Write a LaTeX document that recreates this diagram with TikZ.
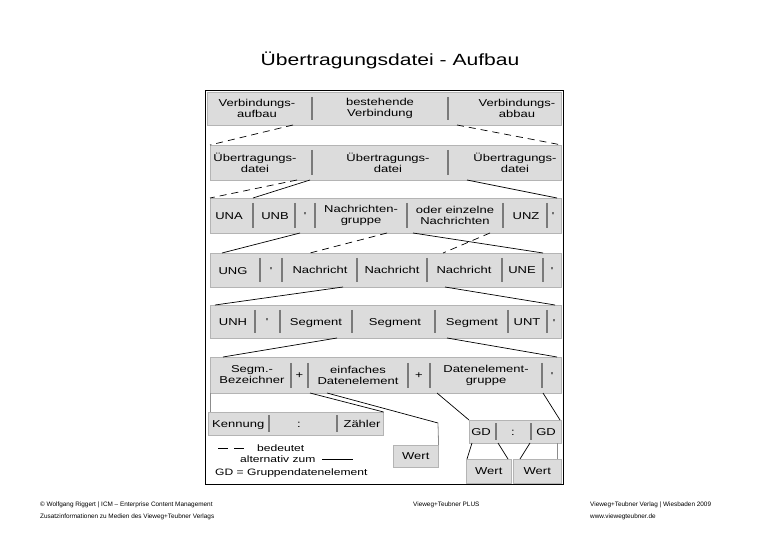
\documentclass[tikz,border=0pt]{standalone}
\usepackage{fontspec}
\setmainfont{Liberation Sans}
\newfontfamily\bandfont[FakeStretch=1.3]{Liberation Sans}
\newfontfamily\titlefont[FakeStretch=1.3]{Liberation Sans}
\newfontfamily\footfont{Liberation Sans}
\definecolor{bandfill}{HTML}{DCDCDC}
\definecolor{bandline}{HTML}{B4B4B4}
\definecolor{bargray}{HTML}{7A7A7A}
\tikzset{
  band/.style={draw=bandline, fill=bandfill, line width=0.6pt, inner sep=0pt, anchor=north west},
  txt/.style={font={\bandfont\fontsize{10}{11}\selectfont}, align=center, inner sep=0pt},
  txtone/.style={font={\bandfont\fontsize{10}{11}\selectfont}, inner sep=0pt, text height=7.2pt, text depth=0pt},
  legtxt/.style={font={\bandfont\fontsize{9.3}{10}\selectfont}, inner sep=0pt, anchor=west, text height=6.7pt, text depth=0pt},
  sepbar/.style={draw=bargray, line width=2pt},
  conn/.style={line width=0.7pt, black},
  alt/.style={conn, dash pattern=on 7pt off 5pt},
  grayconn/.style={line width=0.8pt, draw=black!45},
  foot/.style={font={\footfont\fontsize{6.4}{7}\selectfont}, inner sep=0pt, anchor=west, text=black}
}
\begin{document}
\begin{tikzpicture}[x=1pt,y=-1pt]
\useasboundingbox (0,0) rectangle (780,540);
% title
\node[font={\titlefont\fontsize{16.2}{18}\selectfont}, inner sep=0pt] (title) at (390,60) {Übertragungsdatei - Aufbau};
% frame
\draw[line width=0.8pt] (205,90) rectangle (563,484);
% bands
\node[band, minimum width=354pt, minimum height=33pt] (r1) at (207,92) {};
\node[band, minimum width=351pt, minimum height=35pt] (r2) at (210,145) {};
\node[band, minimum width=351pt, minimum height=35pt] (r3) at (210,198) {};
\node[band, minimum width=351pt, minimum height=34pt] (r4) at (210,253) {};
\node[band, minimum width=351pt, minimum height=33pt] (r5) at (210,305) {};
\node[band, minimum width=351pt, minimum height=36pt] (r6) at (210,357) {};
\node[band, minimum width=175pt, minimum height=23pt] (kenn) at (208,412) {};
\node[band, minimum width=45pt, minimum height=22pt] (wertA) at (393,445) {};
\node[band, minimum width=92pt, minimum height=23pt] (gd) at (469,420) {};
\node[band, minimum width=45pt, minimum height=24pt] (wertB) at (466,459) {};
\node[band, minimum width=48pt, minimum height=24pt] (wertC) at (513,459) {};
% separators
\foreach \x in {312,448} \draw[sepbar] (\x,97) -- (\x,120);
\foreach \x in {312,448} \draw[sepbar] (\x,150) -- (\x,175);
\foreach \x in {253,295,315,407,503,547} \draw[sepbar] (\x,203) -- (\x,228);
\foreach \x in {260,282,357,427,502,543} \draw[sepbar] (\x,258) -- (\x,282);
\foreach \x in {255,280,352,435,508,547} \draw[sepbar] (\x,310) -- (\x,333);
\foreach \x in {291,308,408,430,542} \draw[sepbar] (\x,363) -- (\x,388);
\foreach \x in {269,337} \draw[sepbar] (\x,415) -- (\x,432);
\foreach \x in {496,531} \draw[sepbar] (\x,423) -- (\x,440);
% row 1
\node[txt] (r1a) at (257,108.5) {Verbindungs-\\aufbau};
\node[txt] (r1b) at (380,108.5) {bestehende\\Verbindung};
\node[txt] (r1c) at (517,108.5) {Verbindungs-\\abbau};
% row 2
\node[txt] (r2a) at (255,162.5) {Übertragungs-\\datei};
\node[txt] (r2b) at (388,162.5) {Übertragungs-\\datei};
\node[txt] (r2c) at (515,162.5) {Übertragungs-\\datei};
% row 3
\node[txtone] (r3a) at (229,215.5) {UNA};
\node[txtone] (r3b) at (275,215.5) {UNB};
\node[txt] (r3c) at (305,216) {'};
\node[txt] (r3d) at (361,215.5) {Nachrichten-\\gruppe};
\node[txt] (r3e) at (455,215.5) {oder einzelne\\Nachrichten};
\node[txtone] (r3f) at (526,215.5) {UNZ};
\node[txt] (r3g) at (553,216) {'};
% row 4
\node[txtone] (r4a) at (233,271) {UNG};
\node[txt] (r4b) at (271,271) {'};
\node[txtone] (r4c) at (320,270) {Nachricht};
\node[txtone] (r4d) at (392,270) {Nachricht};
\node[txtone] (r4e) at (464,270) {Nachricht};
\node[txtone] (r4f) at (522,270) {UNE};
\node[txt] (r4g) at (552,271) {'};
% row 5
\node[txtone] (r5a) at (233,322) {UNH};
\node[txt] (r5b) at (267,322) {'};
\node[txtone] (r5c) at (316,322) {Segment};
\node[txtone] (r5d) at (395,322) {Segment};
\node[txtone] (r5e) at (472,322) {Segment};
\node[txtone] (r5f) at (527,322) {UNT};
\node[txt] (r5g) at (554,323) {'};
% row 6
\node[txt] (r6a) at (252,375) {Segm.-\\Bezeichner};
\node[txtone] (r6b) at (299.5,375) {+};
\node[txt] (r6c) at (358,375) {einfaches\\Datenelement};
\node[txtone] (r6d) at (419,375) {+};
\node[txt] (r6e) at (486,375) {Datenelement-\\gruppe};
\node[txt] (r6f) at (552,376) {'};
% Kennung box
\node[txtone, anchor=west] (kenna) at (212,423.5) {Kennung};
\node[txtone] (kennb) at (299,423.5) {:};
\node[txtone] (kennc) at (362,423.5) {Zähler};
% GD box
\node[txtone] (gda) at (481,431.5) {GD};
\node[txtone] (gdb) at (513,431.5) {:};
\node[txtone] (gdc) at (546,431.5) {GD};
% Wert boxes
\node[txtone] at (wertA.center) {Wert};
\node[txtone] at (wertB.center) {Wert};
\node[txtone] at (wertC.center) {Wert};
% connector end points
\coordinate (c1) at (293,125);
\coordinate (c2) at (457,125);
\coordinate (c3) at (297,180);
\coordinate (c4) at (310,180);
\coordinate (c4e) at (253,198);
\coordinate (c5) at (467,180);
\coordinate (c5e) at (557,198);
\coordinate (c6) at (300,233);
\coordinate (c6e) at (222,253);
\coordinate (c7) at (387,233);
\coordinate (c7e) at (310,253);
\coordinate (c8) at (413,233);
\coordinate (c8e) at (543,253);
\coordinate (c9) at (490,233);
\coordinate (c9e) at (443,253);
\coordinate (c10) at (343,287);
\coordinate (c10e) at (215,305);
\coordinate (c11) at (445,287);
\coordinate (c11e) at (555,305);
\coordinate (c12) at (337,338);
\coordinate (c12e) at (223,357);
\coordinate (c13) at (447,338);
\coordinate (c13e) at (557,357);
\coordinate (c14) at (310,393);
\coordinate (c15) at (327,393);
\coordinate (c15m) at (438,423);
\coordinate (c16) at (437,393);
\coordinate (c17) at (543,393);
\coordinate (c17e) at (560,420);
\coordinate (k1) at (210,393);
\coordinate (k1e) at (210,412);
\coordinate (g1) at (472,443);
\coordinate (g1e) at (467,459);
\coordinate (g2) at (498,443);
\coordinate (g2e) at (508,459);
\coordinate (g3) at (530,443);
\coordinate (g3e) at (520,459);
\coordinate (g4) at (557,443);
\coordinate (g4e) at (557,459);
% connectors
\draw[alt] (c1) -- (r2.north west);
\draw[alt] (c2) -- (r2.north east);
\draw[alt] (c3) -- (r3.north west);
\draw[conn] (c4) -- (c4e);
\draw[conn] (c5) -- (c5e);
\draw[conn] (c6) -- (c6e);
\draw[alt] (c7) -- (c7e);
\draw[conn] (c8) -- (c8e);
\draw[alt] (c9) -- (c9e);
\draw[conn] (c10) -- (c10e);
\draw[conn] (c11) -- (c11e);
\draw[conn] (c12) -- (c12e);
\draw[conn] (c13) -- (c13e);
\draw[conn] (c14) -- (kenn.north east);
\draw[conn] (c15) -- (c15m);
\draw[grayconn] (c15m) -- (wertA.north east);
\draw[conn] (c16) -- (gd.north west);
\draw[conn] (c17) -- (c17e);
\draw[grayconn] (k1) -- (k1e);
\draw[conn] (g1) -- (g1e);
\draw[conn] (g2) -- (g2e);
\draw[conn] (g3) -- (g3e);
\draw[grayconn] (g4) -- (g4e);
% legend
\coordinate (l1) at (218,448);
\coordinate (l1e) at (246,448);
\draw[conn, dash pattern=on 10pt off 6pt] (l1) -- (l1e);
\node[legtxt] (leg1) at (257,448) {bedeutet};
\node[legtxt] (leg2) at (240,459) {alternativ zum};
\coordinate (l2) at (322,459);
\coordinate (l2e) at (353,459);
\draw[conn] (l2) -- (l2e);
\node[legtxt] (leg3) at (215,472) {GD = Gruppendatenelement};
% footer
\node[foot] (f1) at (40,505) {© Wolfgang Riggert | ICM – Enterprise Content Management};
\node[foot] (f2) at (40,517) {Zusatzinformationen zu Medien des Vieweg+Teubner Verlags};
\node[foot] (f3) at (413,505) {Vieweg+Teubner PLUS};
\node[foot] (f4) at (590,505) {Vieweg+Teubner Verlag | Wiesbaden 2009};
\node[foot] (f5) at (590,517) {www.viewegteubner.de};
\end{tikzpicture}
\end{document}
